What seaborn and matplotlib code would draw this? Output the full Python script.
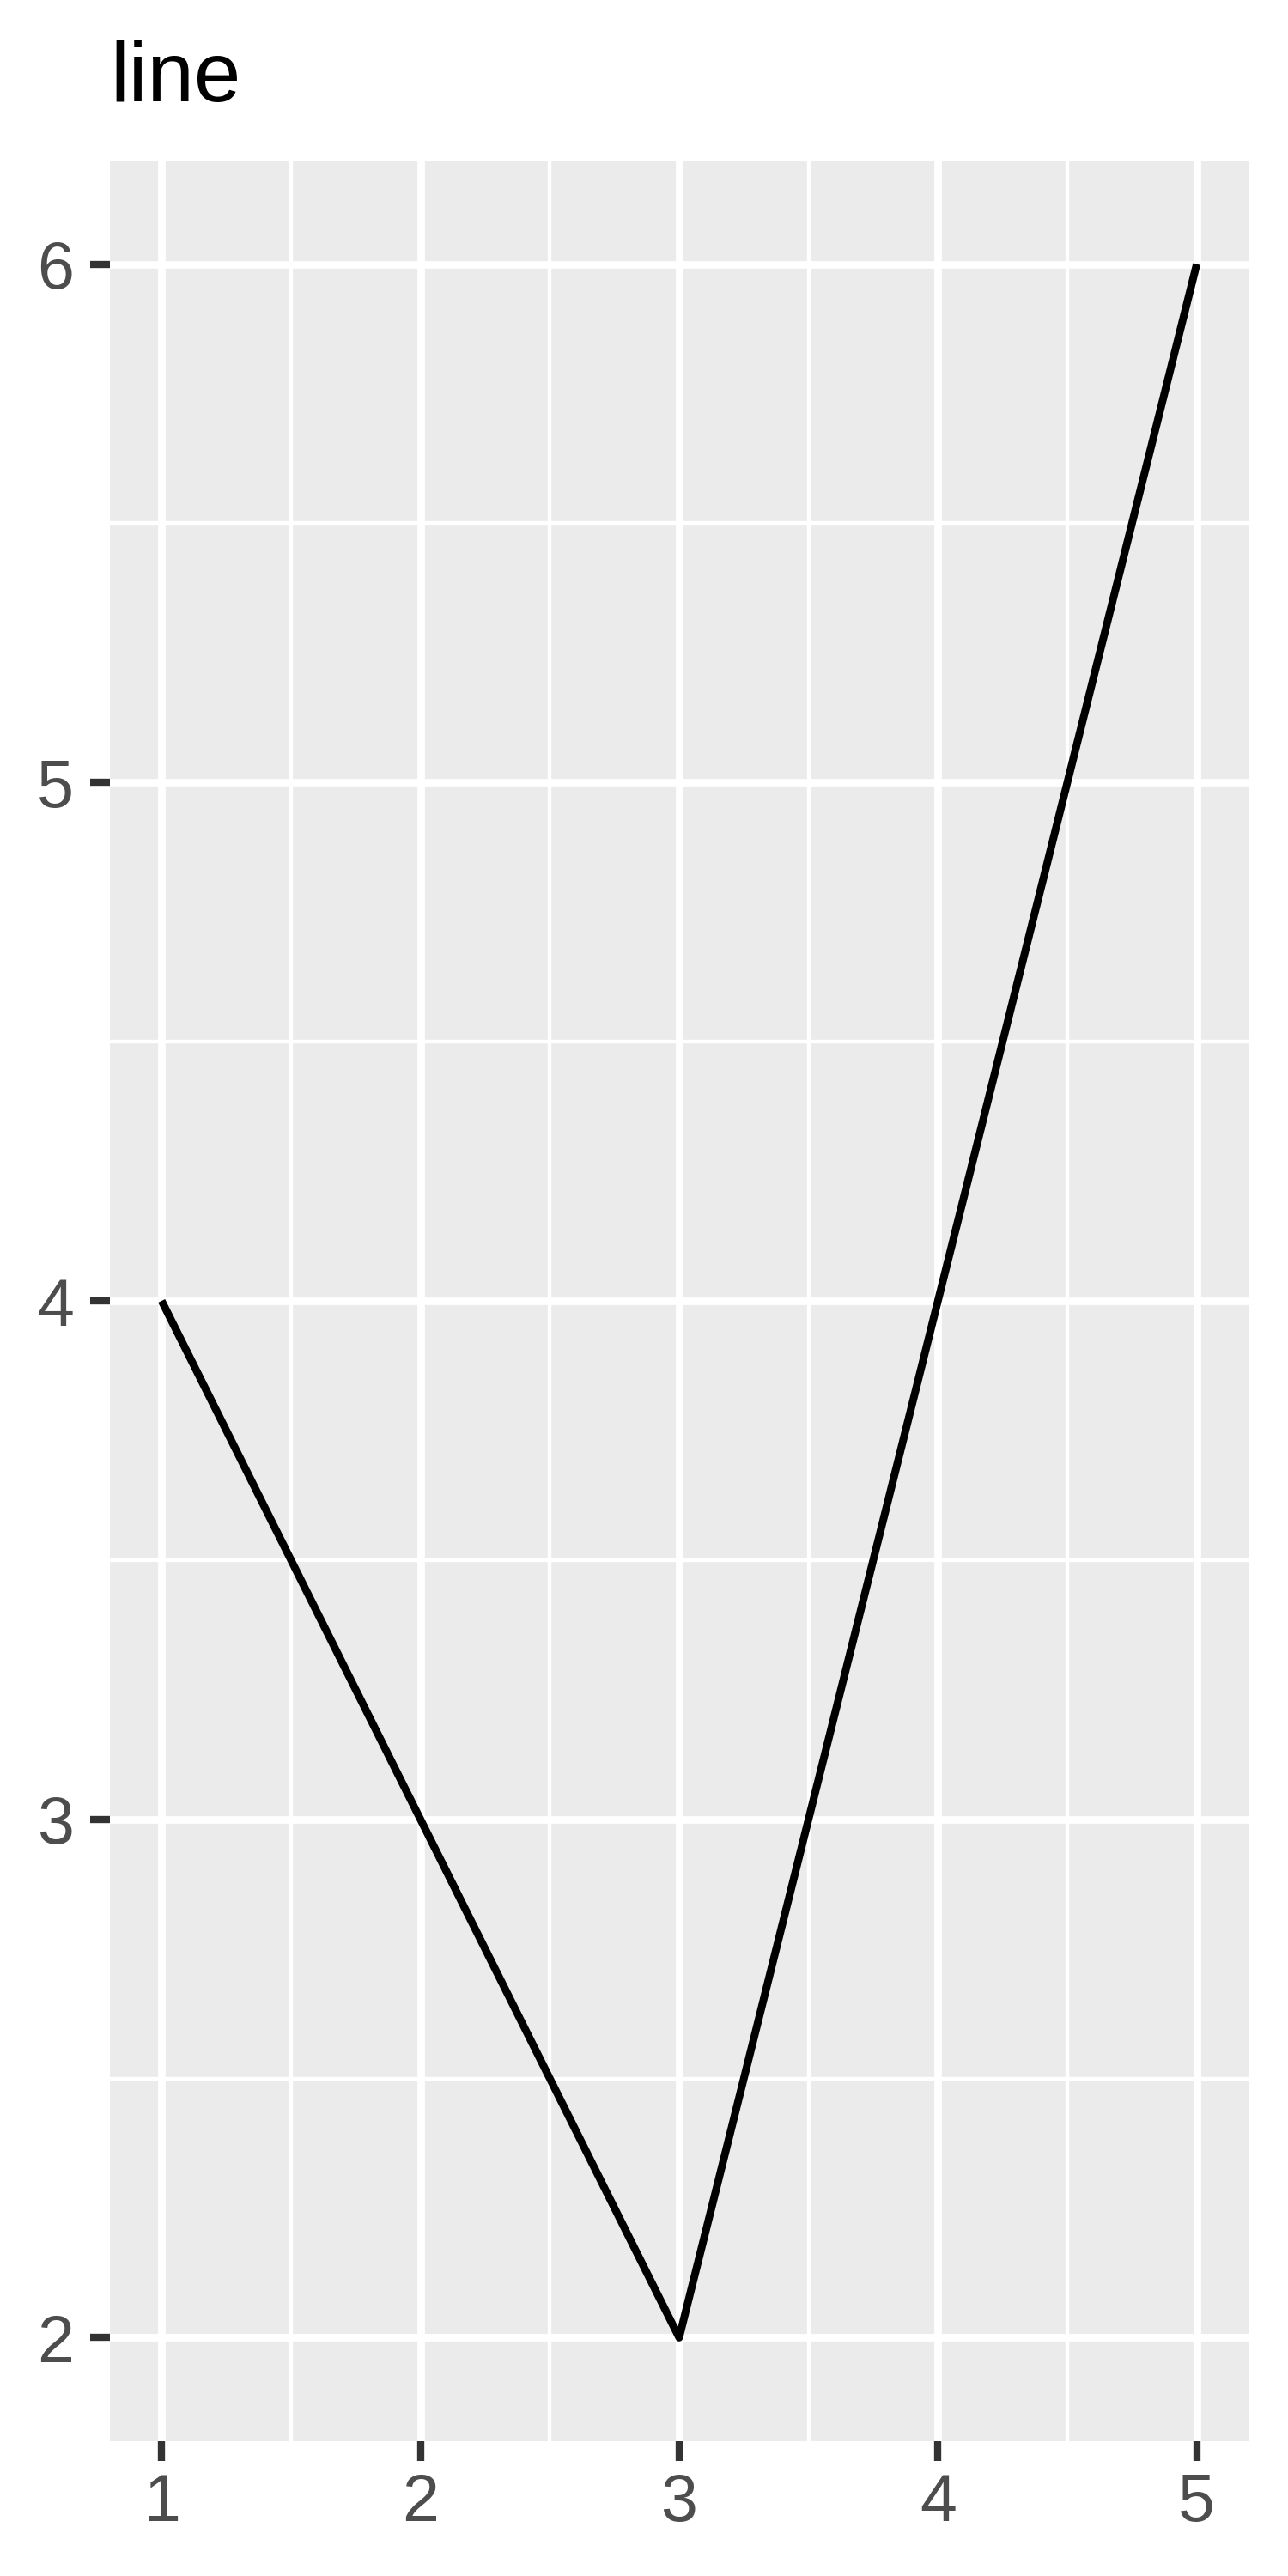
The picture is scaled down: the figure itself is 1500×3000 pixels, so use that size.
import matplotlib
matplotlib.use("Agg")
import matplotlib.pyplot as plt
import pandas as pd
import seaborn as sns
from matplotlib.ticker import MultipleLocator

# data
x_vals = [1, 2, 3, 4, 5]
y_vals = [4, 3, 2, 4, 6]
title = "line"

df = pd.DataFrame({"x": x_vals, "y": y_vals})

sns.set_theme(style="darkgrid")
plt.rcParams['font.family'] = ['Liberation Sans', 'DejaVu Sans']

fig = plt.figure(figsize=(5, 10), dpi=300)
ax = fig.add_axes([0.0853, 0.0523, 0.884, 0.8854])
ax.set_facecolor("#EBEBEB")

sns.lineplot(data=df, x="x", y="y", color="black", linewidth=2.15,
             solid_joinstyle="round", solid_capstyle="butt", ax=ax)

ax.set_xlim(0.8, 5.2)
ax.set_ylim(1.8, 6.2)
ax.xaxis.set_major_locator(MultipleLocator(1))
ax.yaxis.set_major_locator(MultipleLocator(1))
ax.xaxis.set_minor_locator(MultipleLocator(0.5))
ax.yaxis.set_minor_locator(MultipleLocator(0.5))

ax.grid(which="major", color="white", linewidth=2.1)
ax.grid(which="minor", color="white", linewidth=1.05)
ax.set_axisbelow(True)
for s in ax.spines.values():
    s.set_visible(False)

ax.tick_params(which="major", length=5.5, width=2.0, color="#333333",
               labelsize=18.5, labelcolor="#4D4D4D", bottom=True, left=True)
ax.tick_params(axis="y", pad=4.5)
ax.tick_params(axis="x", pad=3)
ax.tick_params(which="minor", length=0)
ax.set_xlabel("")
ax.set_ylabel("")

fig.text(0.0853, 1 - 118 / 3000, title, fontsize=23.5, color="black",
         ha="left", va="baseline")

fig.savefig("out.png", dpi=300, facecolor="white")
